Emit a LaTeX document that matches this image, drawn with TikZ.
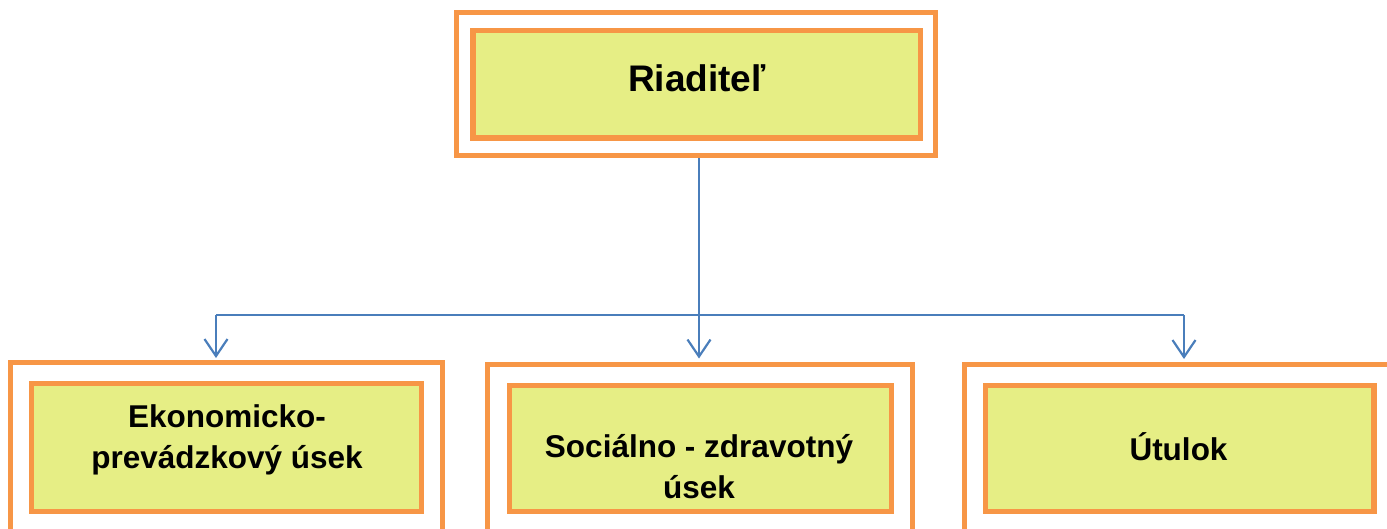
\documentclass[tikz,border=0pt]{standalone}
\usepackage{fontspec}
\setmainfont{Liberation Sans}
\usetikzlibrary{arrows.meta}
\usetikzlibrary{positioning}

\definecolor{boxorange}{RGB}{247,150,70}
\definecolor{boxfill}{RGB}{230,238,133}
\definecolor{linkblue}{RGB}{74,126,187}

\begin{document}
\begin{tikzpicture}[x=1pt,y=-1pt,>={Straight Barb[length=17pt,width=23pt]},
	outer box/.style={draw=boxorange,line width=5pt,inner sep=0pt},
	inner box/.style={draw=boxorange,fill=boxfill,line width=5.5pt,inner sep=0pt},
	head text/.style={font=\bfseries\fontsize{37}{44}\selectfont,anchor=base},
	unit text/.style={font=\bfseries\fontsize{31.5}{40.5}\selectfont,align=center,anchor=base},
	link/.style={draw=linkblue,line width=2.2pt}]
	
	\clip (0,0) rectangle (1387,528);
	
	% director
	\node[outer box,minimum width=479pt,minimum height=143pt] (dirout) at (695.5,84) {};
	\node[inner box,minimum width=447.5pt,minimum height=107.5pt] (dir) at (696.75,84.25) {};
	\node[head text] (dirtxt) at (697,91) {Riaditeľ};
	
	% departments (base anchor = last line)
	\node[outer box,minimum width=432pt,minimum height=182.5pt] (ekonout) at (226.5,453.75) {};
	\node[inner box,minimum width=390pt,minimum height=128pt] (ekon) at (226.5,447.5) {};
	\node[unit text] (ekontxt) at (227,468) {Ekonomicko-\\prevádzkový úsek};
	
	\node[outer box,minimum width=425pt,minimum height=181pt] (socout) at (700,454.5) {};
	\node[inner box,minimum width=382pt,minimum height=126pt] (soc) at (700.5,448.5) {};
	\node[unit text] (soctxt) at (699,498) {Sociálno - zdravotný\\úsek};
	
	\node[outer box,minimum width=430.5pt,minimum height=180.5pt] (utulout) at (1179.75,454.75) {};
	\node[inner box,minimum width=388.5pt,minimum height=126pt] (utul) at (1179.75,448.5) {};
	\node[unit text] (utultxt) at (1178.5,460) {Útulok};
	
	% connectors
	\coordinate (fork) at (699,315);
	\coordinate (forkl) at (216,315);
	\coordinate (forkr) at (1184,315);
	
	\path[link]
	(fork |- dirout.south) edge (fork)
	(forkl) edge (forkr)
	(forkl) edge [->,shorten >=2pt] (forkl |- ekonout.north)
	(fork) edge [->,shorten >=3pt] (fork |- socout.north)
	(forkr) edge [->,shorten >=3pt] (forkr |- utulout.north);
\end{tikzpicture}
\end{document}
